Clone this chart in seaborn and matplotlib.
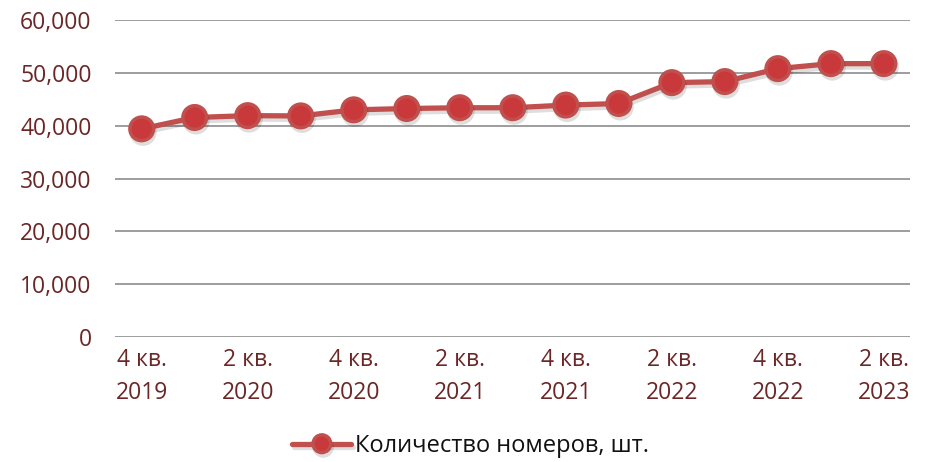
import matplotlib
matplotlib.use("Agg")
import matplotlib.pyplot as plt
import matplotlib.patheffects as pe
import pandas as pd
import seaborn as sns

# Кварталы и количество номеров
QUARTERS = [
    "4 кв.\n2019", "1 кв.\n2020", "2 кв.\n2020", "3 кв.\n2020", "4 кв.\n2020",
    "1 кв.\n2021", "2 кв.\n2021", "3 кв.\n2021", "4 кв.\n2021",
    "1 кв.\n2022", "2 кв.\n2022", "3 кв.\n2022", "4 кв.\n2022",
    "1 кв.\n2023", "2 кв.\n2023",
]
ROOMS = [
    39400, 41550, 41900, 41850, 43000, 43250, 43400, 43400, 43900,
    44200, 48150, 48350, 50800, 51750, 51750,
]
SERIES_NAME = "Количество номеров, шт."
Y_TICKS = [0, 10000, 20000, 30000, 40000, 50000, 60000]

LINE_COLOR = "#c0504d"
TEXT_COLOR = "#6b2626"
GRID_COLOR = "#8c8c8c"


def main() -> None:
    sns.set_style("white")
    plt.rcParams["font.family"] = ["Open Sans", "DejaVu Sans"]

    df = pd.DataFrame({"pos": range(len(QUARTERS)), "value": ROOMS})

    fig = plt.figure(figsize=(9.29, 4.62), dpi=100)
    ax = fig.add_axes([0.124, 0.2706, 0.856, 0.686])

    sns.lineplot(
        data=df, x="pos", y="value", ax=ax,
        color=LINE_COLOR, linewidth=3.8,
        marker="o", markersize=17,
        markerfacecolor="#c9383a", markeredgecolor=LINE_COLOR, markeredgewidth=2.5,
        label=SERIES_NAME, zorder=3,
        path_effects=[pe.SimpleLineShadow(offset=(1, -2.5), alpha=0.13), pe.Normal()],
    )

    ax.set_xlim(-0.5, len(QUARTERS) - 0.5)
    ax.set_ylim(0, 60000)
    ax.set_yticks(Y_TICKS)
    ax.set_yticklabels([f"{v:,}" for v in Y_TICKS])
    shown = list(range(0, len(QUARTERS), 2))
    ax.set_xticks(shown)
    ax.set_xticklabels([QUARTERS[i] for i in shown], linespacing=1.5)

    ax.tick_params(axis="both", length=0, labelsize=16.5, colors=TEXT_COLOR)
    ax.tick_params(axis="y", pad=17)
    ax.tick_params(axis="x", pad=8)
    ax.grid(axis="y", color=GRID_COLOR, linewidth=1.2)
    ax.set_axisbelow(True)
    for s in ax.spines.values():
        s.set_visible(False)
    ax.set_xlabel("")
    ax.set_ylabel("")

    leg = ax.legend(
        loc="center", bbox_to_anchor=(0.447, -0.344), frameon=False,
        fontsize=17, handlelength=2.5, handletextpad=0.15, markerscale=0.75,
    )
    for t in leg.get_texts():
        t.set_color("#111111")

    fig.savefig("out.png", dpi=100)


if __name__ == "__main__":
    main()
